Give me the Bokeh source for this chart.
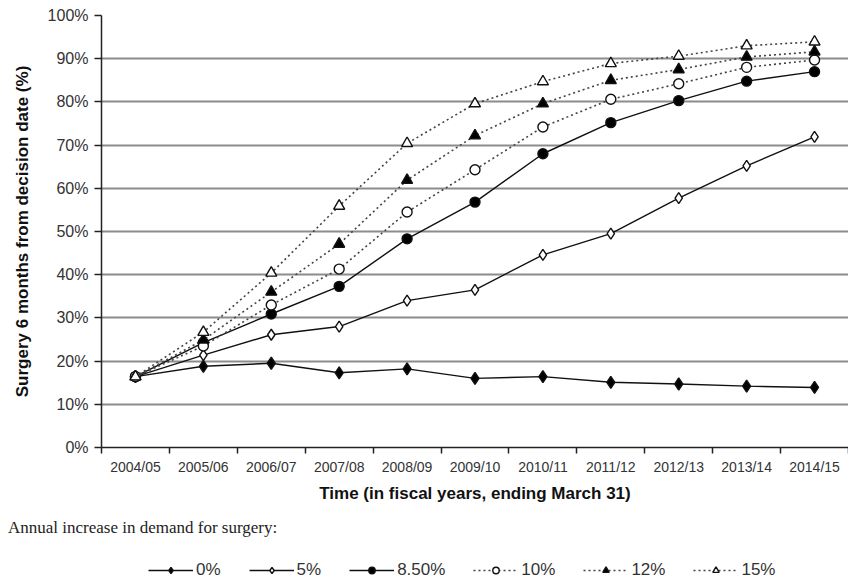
from bokeh.plotting import figure
from bokeh.layouts import column
from bokeh.models import FixedTicker, Legend, LegendItem, PrintfTickFormatter, Range1d, Div
from bokeh.embed import file_html
from bokeh.resources import INLINE

years = ["2004/05", "2005/06", "2006/07", "2007/08", "2008/09", "2009/10",
         "2010/11", "2011/12", "2012/13", "2013/14", "2014/15"]
pct_0 = [16.4, 18.8, 19.5, 17.3, 18.2, 16.0, 16.4, 15.1, 14.7, 14.2, 13.9]
pct_5 = [16.4, 21.4, 26.1, 28.0, 34.0, 36.5, 44.6, 49.5, 57.7, 65.2, 71.9]
pct_8_5 = [16.4, 24.3, 30.9, 37.3, 48.3, 56.8, 68.0, 75.2, 80.3, 84.8, 87.0]
pct_10 = [16.4, 23.5, 33.0, 41.3, 54.5, 64.3, 74.2, 80.6, 84.2, 88.0, 89.7]
pct_12 = [16.4, 24.9, 36.0, 47.1, 61.9, 72.2, 79.6, 85.0, 87.5, 90.4, 91.6]
pct_15 = [16.4, 26.7, 40.4, 55.9, 70.4, 79.6, 84.7, 88.9, 90.6, 93.0, 93.9]
series_labels = ["0%", "5%", "8.50%", "10%", "12%", "15%"]
y_ticks = list(range(0, 101, 10))

x_title = "Time (in fiscal years, ending March 31)"
y_title = "Surgery 6 months from decision date (%)"
legend_title = "Annual increase in demand for surgery:"

n = len(years)
xs = [i + 0.5 for i in range(n)]

p = figure(width=848, height=512, output_backend="svg", toolbar_location=None,
           x_range=Range1d(0, n), y_range=Range1d(0, 100),
           min_border_left=101, min_border_right=0, min_border_top=15, min_border_bottom=65)
p.outline_line_color = None
p.background_fill_color = "white"
p.border_fill_color = "white"

# axes
xa = p.xaxis[0]
xa.ticker = FixedTicker(ticks=xs, minor_ticks=list(range(n + 1)))
xa.major_label_overrides = {x: y for x, y in zip(xs, years)}
xa.major_tick_out = 0
xa.major_tick_in = 0
xa.minor_tick_out = 6
xa.minor_tick_in = 0
xa.minor_tick_line_color = "#222222"
xa.minor_tick_line_width = 1.5
xa.axis_line_color = "#222222"
xa.axis_line_width = 1.5
xa.major_label_text_font = "Liberation Sans"
xa.major_label_text_font_size = "14px"
xa.major_label_text_color = "#333333"
xa.major_label_standoff = 5
xa.axis_label = x_title
xa.axis_label_text_font = "Liberation Sans"
xa.axis_label_text_font_style = "bold"
xa.axis_label_text_font_size = "17px"
xa.axis_label_text_color = "#111111"
xa.axis_label_standoff = 6

ya = p.yaxis[0]
ya.ticker = FixedTicker(ticks=y_ticks, minor_ticks=[])
ya.formatter = PrintfTickFormatter(format="%d%%")
ya.major_tick_out = 7
ya.major_tick_in = 0
ya.major_tick_line_color = "#222222"
ya.major_tick_line_width = 1.5
ya.axis_line_color = "#222222"
ya.axis_line_width = 1.5
ya.major_label_text_font = "Liberation Sans"
ya.major_label_text_font_size = "16px"
ya.major_label_text_color = "#333333"
ya.major_label_standoff = 6
ya.axis_label = y_title
ya.axis_label_text_font = "Liberation Sans"
ya.axis_label_text_font_style = "bold"
ya.axis_label_text_font_size = "17px"
ya.axis_label_text_color = "#111111"
ya.axis_label_standoff = 13

p.xgrid.grid_line_color = None
p.ygrid.grid_line_color = "#8c8c8c"
p.ygrid.grid_line_width = 2

# series
specs = [
    (pct_0, "solid", "diamond", 12, "black"),
    (pct_5, "solid", "diamond", 11, "white"),
    (pct_8_5, "solid", "circle", 10, "black"),
    (pct_10, "2 3", "circle", 10, "white"),
    (pct_12, "2 3", "triangle", 11, "black"),
    (pct_15, "2 3", "triangle", 11, "white"),
]

# legend title as text strip
title_div = Div(text=legend_title, width=840, height=25, margin=(7, 0, 0, 8),
                styles={"font-family": "Liberation Serif", "font-size": "17px",
                        "color": "#222222", "line-height": "18px"})

# legend strip below
q = figure(width=848, height=38, output_backend="svg", toolbar_location=None,
           x_range=Range1d(0, n), y_range=Range1d(0, 100),
           x_axis_type=None, y_axis_type=None,
           min_border_left=0, min_border_right=0, min_border_top=0, min_border_bottom=0)
q.outline_line_color = None
q.xgrid.grid_line_color = None
q.ygrid.grid_line_color = None
q.background_fill_color = "white"
q.border_fill_color = "white"

items = []
for (vals, dash, marker, size, fill), lab in zip(specs, series_labels):
    if dash == "solid":
        lkw = dict(line_color="#111111", line_width=1.4)
    else:
        lkw = dict(line_color="#444444", line_width=1.6, line_dash=dash)
    mkw = dict(marker=marker, size=size, fill_color=fill, line_color="#111111", line_width=1.4)
    p.line(xs, vals, **lkw)
    p.scatter(xs, vals, **mkw)
    lr = q.line(xs, vals, visible=False, **lkw)
    sr = q.scatter(xs, vals, visible=False, **mkw)
    items.append(LegendItem(label=lab, renderers=[lr, sr]))

legend = Legend(items=items, orientation="horizontal", location=(47, 2),
                glyph_width=45, glyph_height=16, label_standoff=3, spacing=28,
                padding=0, margin=0, border_line_alpha=0, background_fill_alpha=0,
                label_text_font="Liberation Sans Narrow, Liberation Sans", label_text_font_size="17px",
                label_text_color="#333333", label_height=20)
q.add_layout(legend)

layout = column(p, title_div, q, spacing=0)
open("out.html", "w").write(file_html(layout, INLINE))
